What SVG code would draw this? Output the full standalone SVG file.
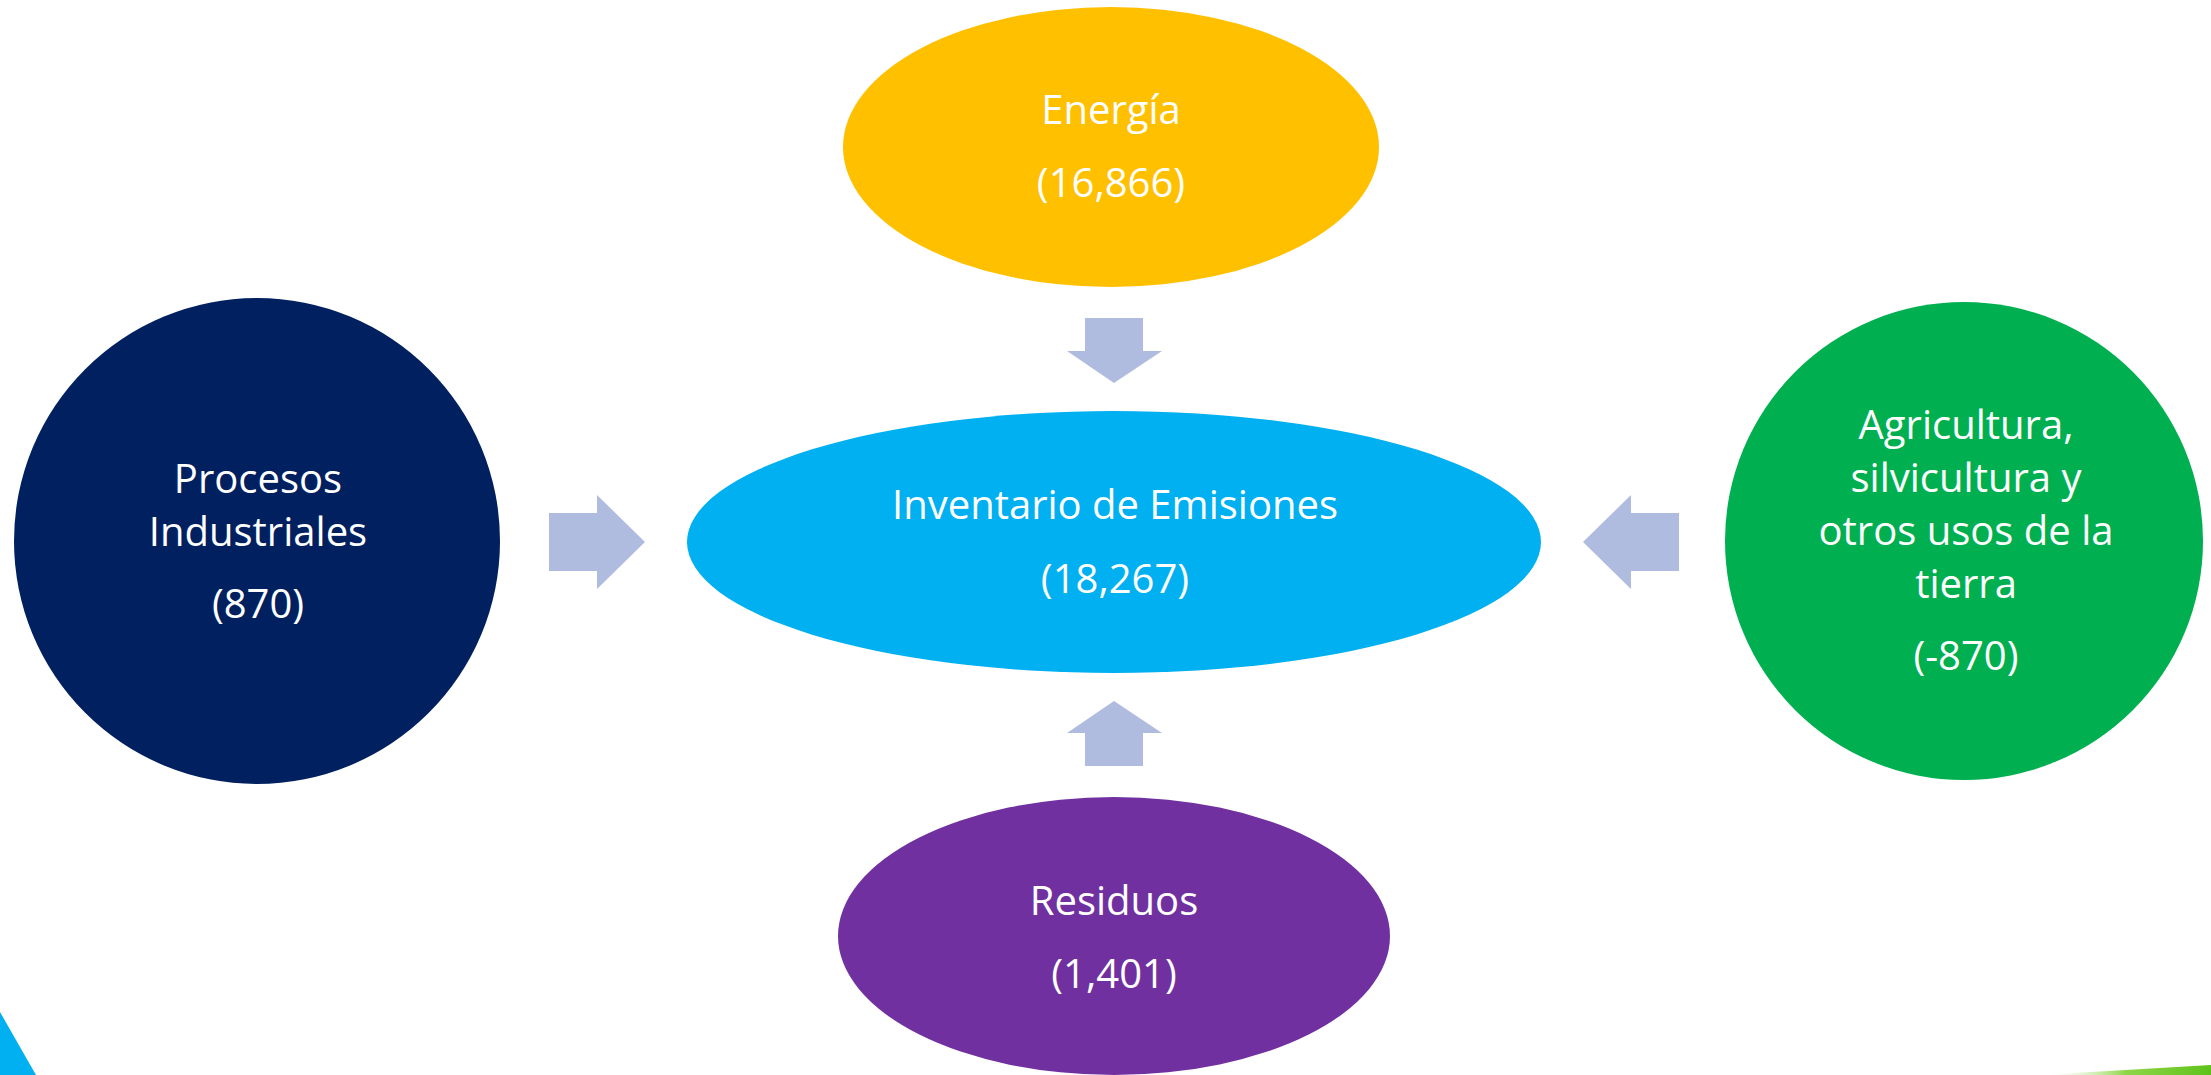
<svg xmlns="http://www.w3.org/2000/svg" width="2211" height="1075" viewBox="0 0 2211 1075">
<style>
.t{font-family:"Open Sans","Noto Sans",sans-serif;font-size:40px;fill:#FFFFFF;text-anchor:middle}
.arr{fill:#AFBCDF}
</style>
<defs>
<linearGradient id="gg" x1="0" y1="0" x2="1" y2="0">
<stop offset="0" stop-color="#FFFFFF" stop-opacity="0"/>
<stop offset="0.5" stop-color="#8FD648"/>
<stop offset="1" stop-color="#5EC21A"/>
</linearGradient>
</defs>
<rect width="2211" height="1075" fill="#FFFFFF"/>
<polygon points="0,1012 36,1075 0,1075" fill="#00B0F0"/>
<polygon points="2040,1075 2211,1065 2211,1075" fill="url(#gg)"/>
<g id="connectors">
<polygon class="arr" points="1085,318 1143,318 1143,351 1162,351 1114,383 1067,351 1085,351"/>
<polygon class="arr" points="1085,766 1143,766 1143,733 1162,733 1114,701 1067,733 1085,733"/>
<polygon class="arr" points="549,513 597,513 597,495 645,542 597,589 597,571 549,571"/>
<polygon class="arr" points="1679,513 1631,513 1631,495 1583,542 1631,589 1631,571 1679,571"/>
</g>
<g id="energia">
<ellipse cx="1111" cy="147" rx="268" ry="140" fill="#FFC000"/>
<text class="t" x="1111" y="124">Energía</text>
<text class="t" x="1111" y="197">(16,866)</text>
</g>
<g id="inventario">
<ellipse cx="1114" cy="542" rx="427" ry="131" fill="#00B0F0"/>
<text class="t" x="1115" y="519">Inventario de Emisiones</text>
<text class="t" x="1115" y="593">(18,267)</text>
</g>
<g id="residuos">
<ellipse cx="1114" cy="936" rx="276" ry="139" fill="#7030A0"/>
<text class="t" x="1114" y="915">Residuos</text>
<text class="t" x="1114" y="988">(1,401)</text>
</g>
<g id="procesos">
<circle cx="257" cy="541" r="243" fill="#002060"/>
<text class="t" x="258" y="493">Procesos</text>
<text class="t" x="258" y="546">Industriales</text>
<text class="t" x="258" y="618">(870)</text>
</g>
<g id="agricultura">
<circle cx="1964" cy="541" r="239" fill="#00B050"/>
<text class="t" x="1966" y="439">Agricultura,</text>
<text class="t" x="1966" y="492">silvicultura y</text>
<text class="t" x="1966" y="545">otros usos de la</text>
<text class="t" x="1966" y="598">tierra</text>
<text class="t" x="1966" y="670">(-870)</text>
</g>
</svg>
